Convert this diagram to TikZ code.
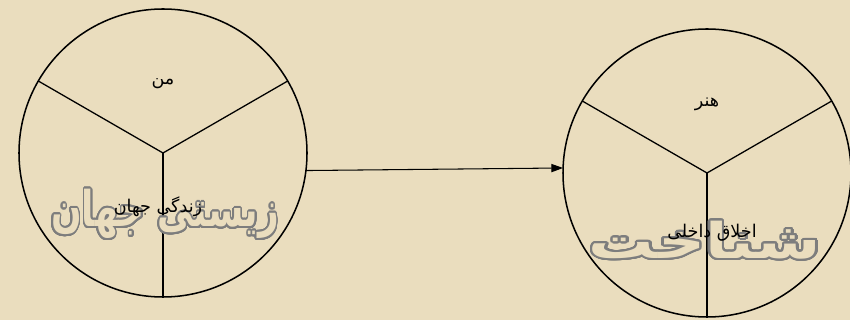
\documentclass[tikz,border=0pt]{standalone}
\usepackage{fontspec}
\newfontfamily\arabicfont[Script=Arabic]{DejaVu Sans}
\TeXXeTstate=1
\usepackage{contour}
\contourlength{1.6pt}
\contournumber{32}
\usetikzlibrary{arrows.meta,positioning}
\definecolor{parch}{RGB}{234,221,190}
\definecolor{ghost}{RGB}{125,125,125}

\begin{document}
\begin{tikzpicture}[
  x=0.3mm, y=-0.3mm,
  circ/.style={circle, draw, line width=1.3pt, minimum size=86.4mm, inner sep=0pt, outer sep=0pt},
  spoke/.style={line width=1.1pt},
  lbl/.style={font=\arabicfont\fontsize{15}{17}\selectfont},
  big/.style={font=\arabicfont\bfseries\fontsize{42}{46}\selectfont, text=parch},
  arr/.style={-{Triangle[length=10pt,width=7pt]}, line width=0.9pt}
]
\fill[parch] (0,0) rectangle (850,320);
\useasboundingbox (0,0) rectangle (850,320);

\node[circ] (me) at (163,153) {};
\node[circ] (art) at (707,173) {};

\draw[spoke] (me.center) -- (me.30);
\draw[spoke] (me.center) -- (me.150);
\draw[spoke] (me.center) -- (me.270);
\draw[spoke] (art.center) -- (art.30);
\draw[spoke] (art.center) -- (art.150);
\draw[spoke] (art.center) -- (art.270);

\node[lbl] (metxt) at (163,84) {\beginR من\endR};
\node[lbl] (arttxt) at (707,104) {\beginR هنر\endR};

% outlined words over the lower parts
\node[big, xscale=0.73] (life) at (165,215) {\contour{ghost}{\beginR زیستی جهان\endR}};
\node[big, xscale=1.33] (know) at (705,241) {\contour{ghost}{\beginR شناخت\endR}};

\node[lbl] (lifetxt) at (158,207) {\beginR زندگی جهان\endR};
\node[lbl] (ethtxt) at (712,233) {\beginR اخلاق داخلی\endR};

\draw[arr] (me.-7) -- (art.178);
\end{tikzpicture}
\end{document}
